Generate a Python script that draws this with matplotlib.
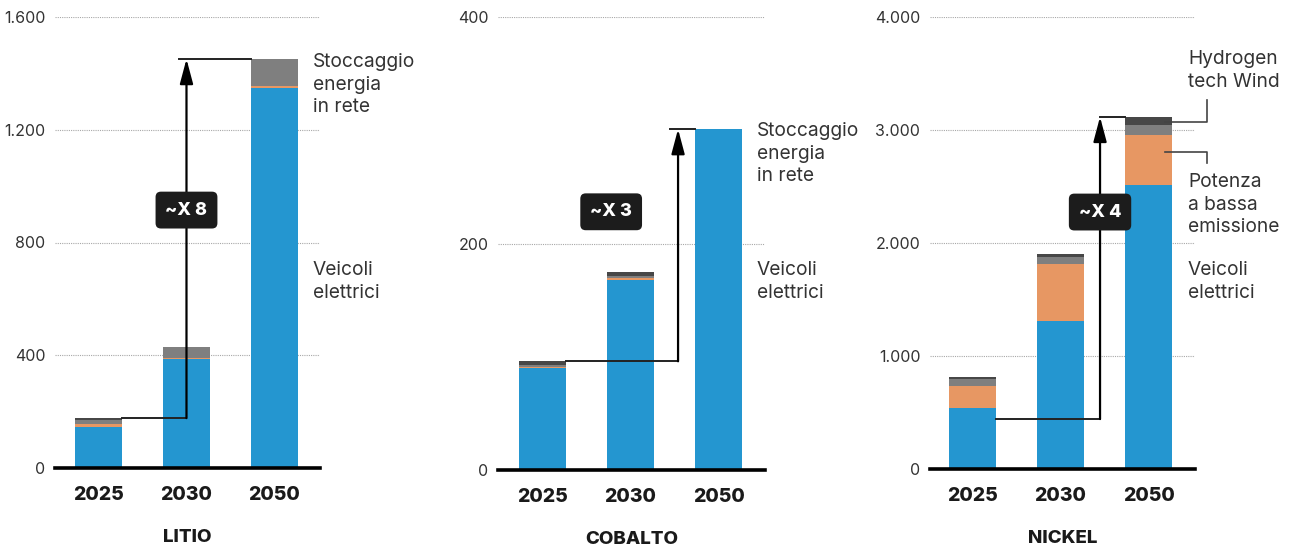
import matplotlib
matplotlib.use("Agg")
from matplotlib import pyplot as plt
from matplotlib.ticker import FuncFormatter

plt.rcParams['font.family'] = ['Inter', 'DejaVu Sans']

years = ['2025', '2030', '2050']

# valori (kt)
litio_veicoli = [145, 385, 1348]
litio_potenza = [10, 5, 7]
litio_stoccaggio = [15, 38, 96]
litio_hydrogen = [7, 0, 0]

cobalto_veicoli = [90, 168, 301]
cobalto_potenza = [1, 1.5, 0]
cobalto_stoccaggio = [1.5, 2, 0]
cobalto_hydrogen = [3.5, 3, 0]

nickel_veicoli = [541, 1313, 2510]
nickel_potenza = [195, 497, 443]
nickel_stoccaggio = [62, 62, 89]
nickel_hydrogen = [18, 35, 74]

titles = ['LITIO', 'COBALTO', 'NICKEL']
multipliers = ['~X 8', '~X 3', '~X 4']
y_max = [1600, 400, 4000]
y_step = [400, 200, 1000]

BLUE = '#2496d0'
ORANGE = '#e79763'
GRAY = '#7f7f7f'
DARK = '#474747'
TXT = '#333333'

W, H = 1290, 548
fig = plt.figure(figsize=(W / 100, H / 100), dpi=100)


def px_axes(x0, x1, y0, y1):
    # y0 = pixel della linea dello zero, y1 = pixel della linea superiore
    return fig.add_axes([x0 / W, (H - y0) / H, (x1 - x0) / W, (y0 - y1) / H])


axes = [
    px_axes(55, 320, 468, 17),
    px_axes(498, 765, 470, 17),
    px_axes(930, 1195, 469, 17),
]
xlims = [(-0.494, 2.517), (-0.506, 2.528), (-0.483, 2.528)]

data = [
    (litio_veicoli, litio_potenza, litio_stoccaggio, litio_hydrogen),
    (cobalto_veicoli, cobalto_potenza, cobalto_stoccaggio, cobalto_hydrogen),
    (nickel_veicoli, nickel_potenza, nickel_stoccaggio, nickel_hydrogen),
]

bw = 0.534
fmt = FuncFormatter(lambda v, p: f'{int(v):,}'.replace(',', '.'))

for i, ax in enumerate(axes):
    veic, pot, stoc, hyd = data[i]
    x = list(range(len(years)))
    b1 = [v + p for v, p in zip(veic, pot)]
    b2 = [a + s for a, s in zip(b1, stoc)]
    tot = [a + h for a, h in zip(b2, hyd)]
    ax.bar(x, veic, bw, color=BLUE, zorder=2)
    ax.bar(x, pot, bw, bottom=veic, color=ORANGE, zorder=2)
    ax.bar(x, stoc, bw, bottom=b1, color=GRAY, zorder=2)
    ax.bar(x, hyd, bw, bottom=b2, color=DARK, zorder=2)

    ax.set_xlim(*xlims[i])
    ax.set_ylim(0, y_max[i])
    ax.set_yticks(range(0, y_max[i] + 1, y_step[i]))
    ax.yaxis.set_major_formatter(fmt)
    ax.grid(axis='y', linestyle=(0, (1, 1)), color='#a8a8a8', lw=0.8, zorder=0)
    ax.axhline(0, color='black', lw=2.6, zorder=3, clip_on=False)
    for s in ax.spines.values():
        s.set_visible(False)
    ax.tick_params(axis='y', length=0, pad=7, labelsize=11.5, labelcolor=TXT)
    ax.tick_params(axis='x', length=0, pad=13)
    ax.set_xticks(x)
    ax.set_xticklabels(years, fontsize=14, fontweight='heavy', color='#1a1a1a')
    ax.set_xlabel(titles[i], fontsize=13.5, fontweight='heavy', color='#1a1a1a', labelpad=18)
    for lab in ax.get_yticklabels():
        lab.set_clip_on(False)

    # freccia di crescita
    if i == 0:
        ax_x, y_lo, box_x, box_y = 1.0, tot[0], 1.0, 915
    elif i == 1:
        ax_x, y_lo, box_x, box_y = 1.54, tot[0], 0.78, 228
    else:
        ax_x, y_lo, box_x, box_y = 1.449, 442, 1.449, 2274
    ax.plot([bw / 2, ax_x], [y_lo, y_lo], color='#222222', lw=1.4, zorder=4)
    ax.annotate('', xy=(ax_x, tot[2]), xytext=(ax_x, y_lo),
                arrowprops=dict(arrowstyle='-|>,head_length=0.75,head_width=0.2',
                                color='black', lw=1.6, mutation_scale=20,
                                shrinkA=0, shrinkB=0), zorder=4)
    ax.plot([ax_x - 0.09 if i < 2 else ax_x, 2 - bw / 2], [tot[2], tot[2]],
            color='#222222', lw=1.4, zorder=4)
    ax.text(box_x, box_y, multipliers[i], ha='center', va='center', color='white',
            fontsize=13, fontweight='heavy', zorder=5,
            bbox=dict(boxstyle='round,pad=0.55,rounding_size=0.3', fc='#1c1c1c', ec='none'))

# etichette di serie
lab_kw = dict(fontsize=13.8, color=TXT, va='top', ha='left', linespacing=1.33)
fig.text(313 / W, 1 - 53 / H, 'Stoccaggio\nenergia\nin rete', **lab_kw)
fig.text(313 / W, 1 - 261 / H, 'Veicoli\nelettrici', **lab_kw)
fig.text(757 / W, 1 - 122 / H, 'Stoccaggio\nenergia\nin rete', **lab_kw)
fig.text(757 / W, 1 - 261 / H, 'Veicoli\nelettrici', **lab_kw)
fig.text(1188 / W, 1 - 50 / H, 'Hydrogen\ntech Wind', **lab_kw)
fig.text(1188 / W, 1 - 173 / H, 'Potenza\na bassa\nemissione', **lab_kw)
fig.text(1188 / W, 1 - 261 / H, 'Veicoli\nelettrici', **lab_kw)

# linee guida nickel
axn = axes[2]
axn.plot([2.19, 2.665, 2.665], [3075, 3075, 3265], color='#444444', lw=1.2,
         clip_on=False, zorder=4)
axn.plot([2.19, 2.665, 2.665], [2805, 2805, 2708], color='#444444', lw=1.2,
         clip_on=False, zorder=4)

fig.savefig('out.png', dpi=100)
